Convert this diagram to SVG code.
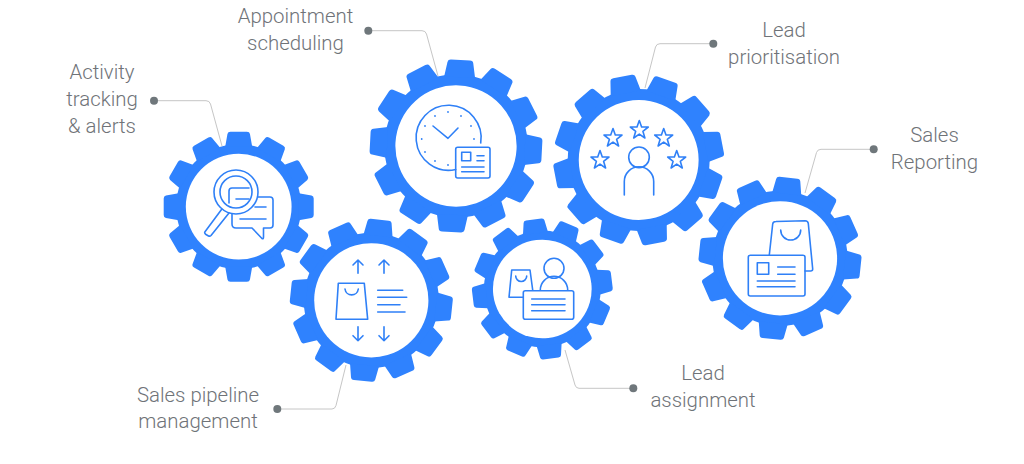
<svg xmlns="http://www.w3.org/2000/svg" width="1024" height="464" viewBox="0 0 1024 464">
<style>
.l{font-family:Roboto,"Liberation Sans",sans-serif;font-weight:300;font-size:20.4px;fill:#6f7378;text-anchor:middle}
.c{fill:none;stroke:#c6c6c6;stroke-width:1}
.d{fill:#6f777b}
.i{fill:none;stroke:#2f80f7;stroke-width:1.6;stroke-linecap:round;stroke-linejoin:round}
.t{fill:#2f82fe}
</style>
<defs>
<path id="tooth" class="t" d="M-18-80L-15-97Q-14.500-100-11-100L11-100Q14.500-100 15-97L18-80Z"/>
<g id="gear">
<circle r="83.500" class="t"/>
<use href="#tooth"/><use href="#tooth" transform="rotate(30)"/><use href="#tooth" transform="rotate(60)"/><use href="#tooth" transform="rotate(90)"/><use href="#tooth" transform="rotate(120)"/><use href="#tooth" transform="rotate(150)"/><use href="#tooth" transform="rotate(180)"/><use href="#tooth" transform="rotate(210)"/><use href="#tooth" transform="rotate(240)"/><use href="#tooth" transform="rotate(270)"/><use href="#tooth" transform="rotate(300)"/><use href="#tooth" transform="rotate(330)"/>
<circle r="70.500" fill="#fff"/>
</g>
<path id="star" class="i" d="M0-9.500L2.300-3L9-3L3.600 1.300L5.600 8L0 4.100L-5.600 8L-3.600 1.300L-9-3L-2.300-3Z"/>
</defs>
<rect width="1024" height="464" fill="#fff"/>
<g id="connectors">
<path class="c" d="M154 100.700H206Q209.500 100.700 210.500 104L222 146"/>
<path class="c" d="M368.300 30.700H422Q425.500 30.700 426.500 34L438 76"/>
<path class="c" d="M713.300 43.700H660Q656.500 43.700 655.500 47L645 88"/>
<path class="c" d="M873.700 149.300H821Q817.500 149.300 816.500 152.500L805 193"/>
<path class="c" d="M277.300 409H332Q335 409 336 405.500L346 365"/>
<path class="c" d="M633.300 388.300H579Q576 388.300 575 385L565 350"/>
<circle class="d" cx="154" cy="100.700" r="4"/>
<circle class="d" cx="368.300" cy="30.700" r="4"/>
<circle class="d" cx="713.300" cy="43.700" r="4"/>
<circle class="d" cx="873.700" cy="149.300" r="4"/>
<circle class="d" cx="277.300" cy="409" r="4"/>
<circle class="d" cx="633.300" cy="388.300" r="4"/>
</g>
<g id="activity">
<use href="#gear" transform="translate(238.700 206.700) scale(.75)"/>
<text class="l"><tspan x="102" y="78.500">Activity</tspan><tspan x="102" y="106">tracking</tspan><tspan x="102" y="133.300">&amp; alerts</tspan></text>
<circle class="i" cx="236" cy="192" r="22"/><circle class="i" cx="236" cy="192" r="16"/>
<path class="i" d="M221.700 209.300L205 231.700Q204 233 206 234.500L208.500 236Q210 236.500 211 235.500L229 213M229 203V191Q229 188 232 188H249M236 199H249M232 214V224Q232 228 236 228H252L262 238.500Q263.500 239.500 263.500 237V228H270Q273 228 273 225V200Q273 197 270 197H258M255 207H266M240 219H266"/>
</g>
<g id="appointment">
<use href="#gear" transform="translate(456 146) rotate(3) scale(.86)"/>
<text class="l"><tspan x="295.500" y="22.500">Appointment</tspan><tspan x="295.500" y="50">scheduling</tspan></text>
<path class="i" d="M455.700 169.500A32.500 32.500 0 1 1 480.700 143M433 126L448 138.300L458 128"/>
<rect class="i" x="455.700" y="147.300" width="34.300" height="30.700" rx="2"/>
<rect class="i" x="461.700" y="152.300" width="9" height="8.400"/>
<path class="i" d="M477 155.700H484M477 160.700H484M461.700 167H484M461.700 171.700H484"/>
<g fill="#2f80f7"><circle cx="448" cy="112" r=".9"/><circle cx="461" cy="116" r=".9"/><circle cx="471" cy="126" r=".9"/><circle cx="474" cy="139" r=".9"/><circle cx="448" cy="165" r=".9"/><circle cx="435" cy="161" r=".9"/><circle cx="425" cy="152" r=".9"/><circle cx="421.700" cy="139" r=".9"/><circle cx="425" cy="126" r=".9"/><circle cx="435" cy="116" r=".9"/></g>
</g>
<g id="prioritisation">
<use href="#gear" transform="translate(638.700 160) rotate(-11) scale(.85)"/>
<text class="l"><tspan x="784" y="36.500">Lead</tspan><tspan x="784" y="63.500">prioritisation</tspan></text>
<circle class="i" cx="639" cy="157.300" r="10.300"/>
<path class="i" d="M624.300 195V181.500A14.700 14.700 0 0 1 653.700 181.500V195"/>
<use href="#star" x="639.300" y="130"/>
<use href="#star" x="613" y="138"/>
<use href="#star" x="663.700" y="138"/>
<use href="#star" x="600" y="160"/>
<use href="#star" x="676.700" y="160"/>
</g>
<g id="reporting">
<use href="#gear" transform="translate(780 258.300) rotate(6) scale(.81)"/>
<text class="l"><tspan x="934.500" y="141.700">Sales</tspan><tspan x="934.500" y="169">Reporting</tspan></text>
<path class="i" d="M769.300 255L772.700 224Q773 221.500 776 221.500L805 220.700Q808 220.700 808.300 223.500L812.700 269Q812.700 271 810.700 271H805M780.700 230A10 10 0 0 0 800.700 230"/>
<rect class="i" x="748.300" y="255.300" width="56.700" height="40.700" rx="2"/>
<rect class="i" x="757.300" y="262.700" width="11.400" height="11.600"/>
<path class="i" d="M777.700 267H795M777.700 274.300H795M757.300 281H795M757.300 286.700H795"/>
</g>
<g id="pipeline">
<use href="#gear" transform="translate(371.300 300.300) rotate(6) scale(.81)"/>
<text class="l"><tspan x="198" y="401.700">Sales pipeline</tspan><tspan x="198" y="428.300">management</tspan></text>
<path class="i" d="M358 273.300V260M353 265L358 260L363 265M384 273.300V260M379 265L384 260L389 265M358 326.700V340.700M353 335.700L358 340.700L363 335.700M384 326.700V340.700M379 335.700L384 340.700L389 335.700"/>
<path class="i" d="M338.300 283.300H364.300L367.700 319.300H336ZM345 289A6.700 6.700 0 0 0 358.300 289"/>
<path class="i" d="M377.700 290.300H402.700M377.700 297.300H406.700M377.700 304.700H400M377.700 312H405"/>
</g>
<g id="assignment">
<use href="#gear" transform="translate(542.300 289) rotate(-7) scale(.70)"/>
<text class="l"><tspan x="703" y="380">Lead</tspan><tspan x="703" y="406.700">assignment</tspan></text>
<circle class="i" cx="554" cy="268.300" r="10"/>
<path class="i" d="M540.300 290A13.700 13.700 0 0 1 567.700 290M523.300 297.300H509L511.700 270H530L532.700 290M515.700 276A5.500 5.500 0 0 0 526.700 276"/>
<rect class="i" x="523.300" y="290.700" width="50.400" height="28.600" rx="2"/>
<path class="i" d="M531.700 299H565M531.700 304.700H565M531.700 310.700H565"/>
</g>
</svg>
